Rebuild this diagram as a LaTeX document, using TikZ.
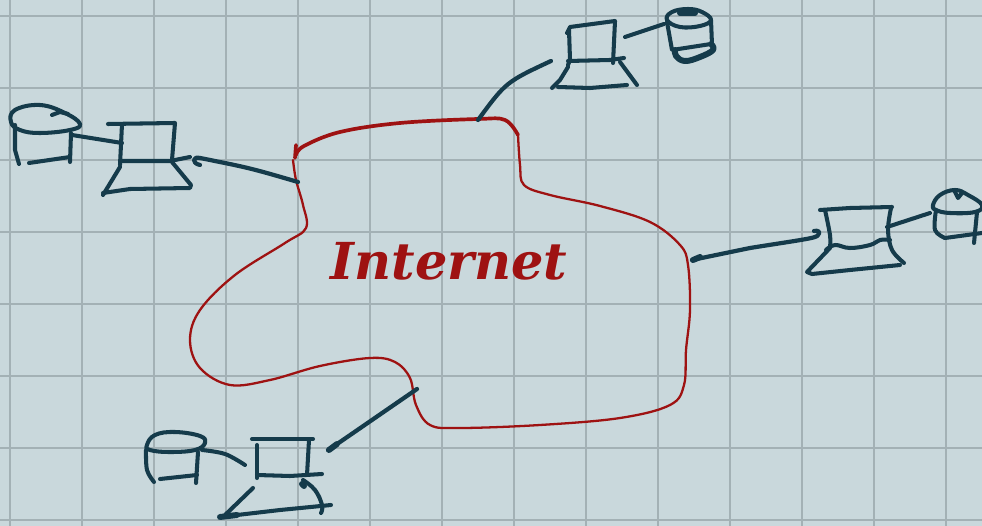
\documentclass[tikz,border=0pt]{standalone}
\usepackage{fontspec}
\newfontfamily\handfont{DejaVu Serif}
\definecolor{paper}{HTML}{C9D8DC}
\definecolor{gridline}{HTML}{A3B1B5}
\definecolor{inkblue}{HTML}{153B4B}
\definecolor{inkred}{HTML}{9E1212}
\usetikzlibrary{calc}

\begin{document}
\begin{tikzpicture}[
        x=0.02cm, y=-0.02cm,
        gridrule/.style={draw=gridline, line width=1.5pt},
        ink/.style={draw=inkblue, line width=2.3pt, line cap=round, line join=round},
        link/.style={ink, line width=2.4pt},
        blob/.style={ink, line width=3.4pt},
        cloud/.style={draw=inkred, line width=1.3pt, line cap=round, line join=round},
        cloudtop/.style={cloud, line width=2.1pt},
        label/.style={text=inkred, inner sep=0pt, font=\handfont\bfseries\itshape\fontsize{29}{29}\selectfont}
    ]
    % Paper and squares
    \fill[paper] (0,0) rectangle (982,526);
    \useasboundingbox (0,0) rectangle (982,526);
    \foreach \gx in {10,82,...,946} \draw[gridrule] (\gx,0) -- (\gx,526);
    \foreach \gy in {16,88,...,520} \draw[gridrule] (0,\gy) -- (982,\gy);

    % Internet cloud
    \draw[cloud] plot[smooth, tension=.6] coordinates {(518,135) (520,165) (524,185) (550,195) (600,206) (650,222) (680,245)
        (688,265) (690,310) (686,350) (684,385) (670,405) (620,418) (540,425) (460,428) (430,425) (416,405)
        (410,378) (395,362) (370,358) (320,366) (270,380) (230,385) (200,368) (190,340) (200,310) (235,275)
        (285,243) (306,228) (303,205) (296,180) (293,160)};
    \draw[cloudtop] plot[smooth, tension=.6] coordinates {(296,155) (304,146) (340,132) (400,123) (478,119) (505,120) (518,135)};
    \draw[cloudtop] (296,145) -- (295,158);
    \node[label] (internet) at (449,261) {Internet};

    % Ends of the links
    \coordinate (leftcloud) at (298,182);
    \coordinate (leftpc) at (200,158);
    \coordinate (topcloud) at (478,120);
    \coordinate (toppc) at (551,61);
    \coordinate (rightcloud) at (692,260);
    \coordinate (rightpc) at (818,235);
    \coordinate (lowcloud) at (417,389);
    \coordinate (lowpc) at (328,450);

    % Links
    \draw[link] (leftcloud) .. controls (250,168) .. (leftpc) .. controls (193,156) and (191,163) .. (200,165);
    \draw[link] (topcloud) .. controls (506,82) .. (toppc);
    \draw[link] (rightcloud) -- (750,248) .. controls (800,240) and (818,238) .. (rightpc) .. controls (821,232) and (818,230) .. (814,231);
    \draw[blob] (693,260) -- (700,257);
    \draw[link] (lowcloud) -- (340,442) -- (lowpc);
    \draw[blob] (329,450) -- (337,444);

    % Left computer and disk
    \draw[ink] (108,124) -- (175,123) -- (172,160);
    \draw[ink] (122,124) -- (120,165);
    \draw[ink] (120,161) -- (170,161) -- (190,157);
    \draw[ink] (120,167) -- (103,195);
    \draw[ink] (103,193) -- (130,189) -- (190,188) -- (191,185) -- (172,162);
    \draw[ink] plot[smooth cycle, tension=.7] coordinates {(11,122) (15,110) (40,105) (65,113) (80,124) (70,130) (40,133) (20,130)};
    \draw[ink] (52,115) -- (60,112) -- (68,114);
    \draw[ink] (15,125) -- (15,150) -- (19,164);
    \draw[ink] (29,163) -- (70,157);
    \draw[ink] (71,133) -- (70,162);
    \draw[ink] (72,135) -- (122,143);

    % Top computer and disk
    \draw[ink] (567,33) -- (570,27) -- (615,21) -- (613,63);
    \draw[ink] (569,30) -- (570,60) -- (568,65);
    \draw[ink] (568,61) -- (610,60) -- (624,58);
    \draw[ink] (568,67) -- (560,80) -- (552,88);
    \draw[ink] (558,87) -- (590,88) -- (627,85);
    \draw[ink] (620,62) -- (637,85);
    \draw[ink] plot[smooth cycle, tension=.7] coordinates {(667,20) (672,12) (688,9) (702,12) (711,20) (700,26) (680,27)};
    \draw[blob] (680,13) -- (695,13);
    \draw[ink] (667,22) -- (672,50) -- (711,44);
    \draw[ink] (711,20) -- (712,45);
    \draw[blob] plot[smooth, tension=.7] coordinates {(711,44) (713,50) (700,57) (685,61) (676,56) (675,50)};
    \draw[ink] (625,37) -- (664,24);

    % Right computer and disk
    \draw[ink] (820,210) -- (850,208) -- (892,207);
    \draw[ink] plot[smooth, tension=.6] coordinates {(825,210) (830,235) (830,247)};
    \draw[ink] plot[smooth, tension=.6] coordinates {(891,208) (888,230) (892,250) (904,263)};
    \draw[ink] plot[smooth, tension=.7] coordinates {(826,250) (835,245) (850,248) (870,245) (880,240) (890,240)};
    \draw[ink] (830,248) -- (807,272) -- (812,274) -- (850,270) -- (900,265);
    \draw[ink] (887,227) -- (930,213);
    \draw[ink] plot[smooth cycle, tension=.7] coordinates {(933,205) (940,195) (955,190) (968,195) (982,205) (975,212) (950,213) (936,210)};
    \draw[ink] (955,192) -- (958,198) -- (962,193);
    \draw[ink] plot[smooth, tension=.6] coordinates {(936,210) (935,230) (945,238)};
    \draw[ink] (945,238) -- (982,233);
    \draw[ink] (977,212) -- (974,243);

    % Lower computer and disk
    \draw[ink] (252,439) -- (313,439);
    \draw[ink] (257,445) -- (257,478);
    \draw[ink] (309,440) -- (307,475);
    \draw[ink] (257,475) -- (290,476) -- (322,474);
    \draw[ink] (253,488) -- (225,515);
    \draw[blob] (220,517) -- (237,515);
    \draw[ink] (220,517) -- (280,510) -- (331,505);
    \draw[ink] plot[smooth, tension=.7] coordinates {(303,480) (315,490) (322,505) (321,513)};
    \draw[blob] (302,484) -- (304,486);
    \draw[ink] plot[smooth cycle, tension=.7] coordinates {(147,445) (155,435) (175,432) (200,436) (205,443) (195,450) (170,452) (150,450)};
    \draw[ink] plot[smooth, tension=.6] coordinates {(146,450) (147,470) (154,482)};
    \draw[ink] (160,479) -- (197,475);
    \draw[ink] (198,452) -- (196,483);
    \draw[ink] plot[smooth, tension=.6] coordinates {(202,450) (225,454) (245,465)};
\end{tikzpicture}
\end{document}
